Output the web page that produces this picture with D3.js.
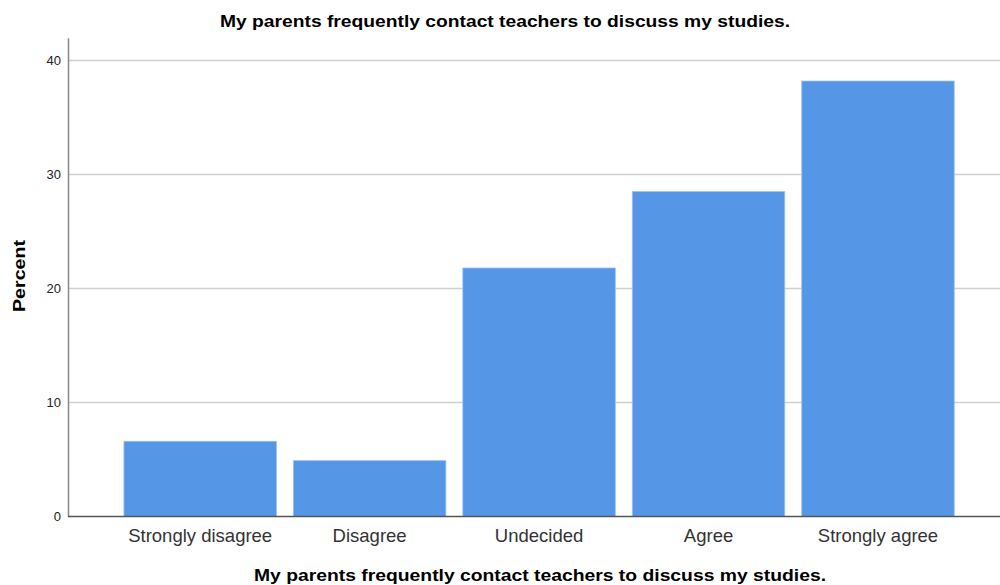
<!DOCTYPE html>
<html>
<head>
<meta charset="utf-8">
<script src="https://cdn.jsdelivr.net/npm/d3@7"></script>
<style>
  body { margin: 0; background: #fff; }
  text { font-family: "Liberation Sans", Arial, sans-serif; }
</style>
</head>
<body>
<svg id="chart" width="1000" height="585"></svg>
<script>
var categories = ["Strongly disagree", "Disagree", "Undecided", "Agree", "Strongly agree"];
var percents = [6.6, 4.9, 21.8, 28.5, 38.2];
var yTicks = [0, 10, 20, 30, 40];
var chartTitle = "My parents frequently contact teachers to discuss my studies.";

var svg = d3.select("#chart");

var x = d3.scaleBand()
  .domain(categories)
  .range([68, 1000])
  .paddingInner(0.1)
  .paddingOuter(0.3)
  .align(0.55);

var y = d3.scaleLinear()
  .domain([0, 42])
  .range([516.5, 37.7]);

// gridlines
svg.append("g")
  .selectAll("line")
  .data(yTicks.filter(d => d > 0))
  .enter()
  .append("line")
    .attr("x1", 68)
    .attr("x2", 1000)
    .attr("y1", d => y(d))
    .attr("y2", d => y(d))
    .style("stroke", "#d0d0d0")
    .style("stroke-width", 1.5);

// bars
svg.append("g")
  .selectAll("rect")
  .data(percents)
  .enter()
  .append("rect")
    .attr("x", (d, i) => x(categories[i]))
    .attr("y", d => y(d))
    .attr("width", x.bandwidth())
    .attr("height", d => y(0) - y(d))
    .style("fill", "#5596e6")
    .style("stroke", "#9cc2f0")
    .style("stroke-width", 0.8);

// y axis
var yAxis = svg.append("g")
  .attr("transform", "translate(68,0)")
  .call(d3.axisLeft(y).tickValues(yTicks).tickSize(0).tickPadding(7));
yAxis.select(".domain").style("stroke", "#888").style("stroke-width", 1.5);
yAxis.selectAll("text").style("font-size", "13px").style("fill", "#222")
  .style("font-family", "'Liberation Sans', Arial, sans-serif");

// x axis
var xAxis = svg.append("g")
  .attr("transform", "translate(0," + y(0) + ")")
  .call(d3.axisBottom(x).tickSize(0).tickPadding(12));
xAxis.select(".domain").attr("d", "M68,0H1000").style("stroke", "#555").style("stroke-width", 1.3);
xAxis.selectAll("text").style("font-size", "18.5px").style("fill", "#333")
  .style("font-family", "'Liberation Sans', Arial, sans-serif");

// titles
svg.append("text")
  .attr("x", 505)
  .attr("y", 27)
  .style("text-anchor", "middle")
  .style("font-size", "17px")
  .style("font-weight", "bold")
  .attr("textLength", 570)
  .attr("lengthAdjust", "spacingAndGlyphs")
  .text(chartTitle);

svg.append("text")
  .attr("x", 540)
  .attr("y", 581)
  .style("text-anchor", "middle")
  .style("font-size", "17px")
  .style("font-weight", "bold")
  .attr("textLength", 572)
  .attr("lengthAdjust", "spacingAndGlyphs")
  .text(chartTitle);

svg.append("text")
  .attr("transform", "rotate(-90)")
  .attr("x", -276)
  .attr("y", 25)
  .style("text-anchor", "middle")
  .style("font-size", "17px")
  .style("font-weight", "bold")
  .attr("textLength", 72)
  .attr("lengthAdjust", "spacingAndGlyphs")
  .text("Percent");
</script>
</body>
</html>
